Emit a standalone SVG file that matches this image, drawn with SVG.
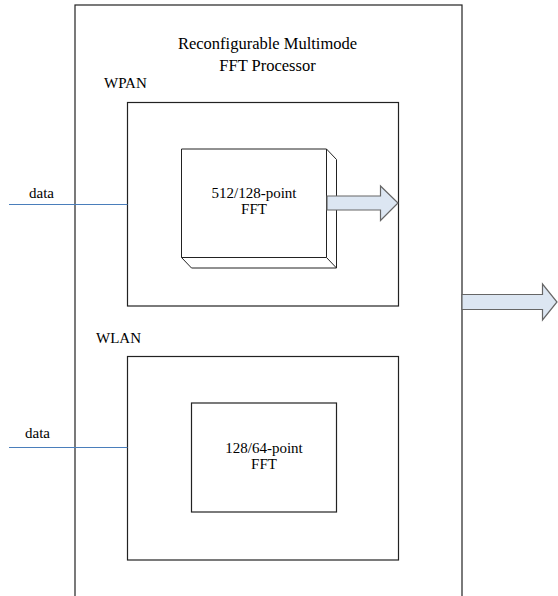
<svg xmlns="http://www.w3.org/2000/svg" width="558" height="596" viewBox="0 0 558 596">
<style>
text{font-family:"Liberation Serif","Times New Roman",serif;font-size:15px;fill:#000}
.box{fill:#fff;stroke:#222;stroke-width:1.2}
.arrow{fill:#dce6f2;stroke:#666;stroke-width:1.2}
.data{stroke:#4a7ebb;stroke-width:1;fill:none}
</style>
<rect x="0" y="0" width="558" height="596" fill="#fff"/>
<g id="processor">
<rect class="box" x="75" y="5" width="387" height="600"/>
<text x="267.5" y="49" text-anchor="middle" style="font-size:16.5px">Reconfigurable Multimode</text>
<text x="267.5" y="71" text-anchor="middle" style="font-size:16.5px">FFT Processor</text>
</g>
<g id="wpan">
<text x="104" y="88">WPAN</text>
<rect class="box" x="127.5" y="102.5" width="271" height="203.5"/>
</g>
<g id="fft512">
<polygon fill="#fff" stroke="#222" stroke-width="1" points="181.5,149 326.5,149 336.5,159.5 336.5,268 191.5,268 181.5,257.5"/>
<line x1="326.5" y1="149" x2="326.5" y2="257.5" stroke="#222"/>
<line x1="181.5" y1="257.5" x2="326.5" y2="257.5" stroke="#222"/>
<line x1="326.5" y1="257.5" x2="336.5" y2="268" stroke="#222"/>
<text x="254" y="198" text-anchor="middle">512/128-point</text>
<text x="254" y="214" text-anchor="middle">FFT</text>
</g>
<g id="wlan">
<text x="96" y="343">WLAN</text>
<rect class="box" x="127.5" y="356.5" width="271" height="203.5"/>
</g>
<g id="fft128">
<rect class="box" x="191.5" y="403" width="145" height="109"/>
<text x="264" y="453" text-anchor="middle">128/64-point</text>
<text x="264" y="469" text-anchor="middle">FFT</text>
</g>
<g id="connectors">
<line class="data" x1="9" y1="204.5" x2="127.5" y2="204.5"/>
<text x="29" y="198">data</text>
<line class="data" x1="9" y1="447.5" x2="127.5" y2="447.5"/>
<text x="25" y="438">data</text>
<polygon class="arrow" points="327,196 380.5,196 380.5,186 398,203 380.5,220.5 380.5,210 327,210"/>
<polygon class="arrow" points="462,294.5 542.5,294.5 542.5,284 557,302 542.5,320 542.5,309.5 462,309.5"/>
</g>
</svg>
